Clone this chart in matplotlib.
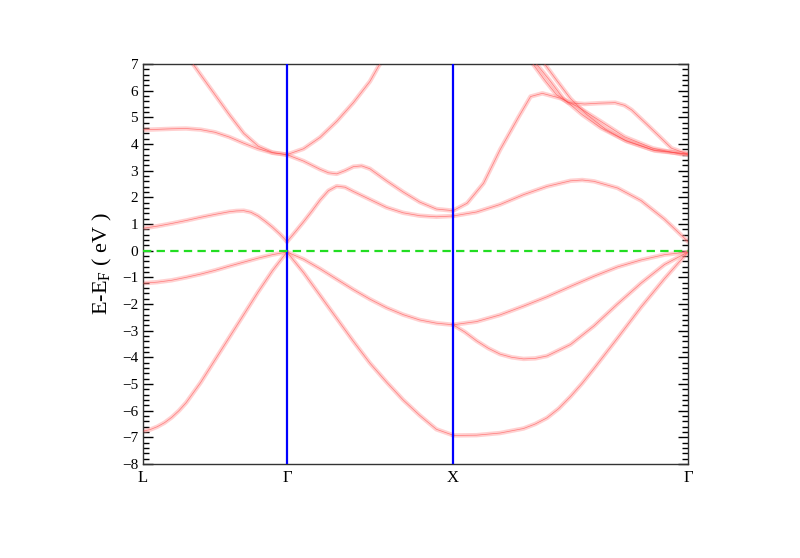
import matplotlib
matplotlib.use("Agg")
import matplotlib.pyplot as plt
import numpy as np
from matplotlib.ticker import MultipleLocator

plt.rcParams['font.family'] = ['Liberation Serif', 'DejaVu Serif']
plt.rcParams['mathtext.fontset'] = 'custom'
plt.rcParams['mathtext.rm'] = 'Liberation Serif'
plt.rcParams['lines.scale_dashes'] = False

# High-symmetry points (path distances) and labels
kpoints = [0.0, 0.866, 1.866, 3.280]
klabels = ['L', 'Γ', 'X', 'Γ']

# ---- Segment L -> Γ  (t = fraction along segment, E in eV) ----
t_LG = [0, .1, .2, .3, .4, .5, .6, .7, .8, .9, 1.0]
t_LG_b1 = [0, .05, .1, .15, .2, .25, .3, .4, .5, .6, .7, .8, .9, 1.0]
LG_b1 = [-6.77, -6.71, -6.6, -6.45, -6.25, -6.0, -5.7, -4.95, -4.1, -3.25, -2.4, -1.55, -0.75, -0.05]
LG_b2 = [-1.22, -1.18, -1.11, -1.0, -0.88, -0.74, -0.58, -0.43, -0.28, -0.15, -0.05]
t_LG_b3 = [0, .1, .2, .3, .4, .5, .6, .65, .7, .75, .8, .85, .9, .95, 1.0]
LG_b3 = [0.84, 0.92, 1.02, 1.13, 1.25, 1.36, 1.46, 1.49, 1.5, 1.44, 1.3, 1.1, 0.88, 0.63, 0.35]
LG_b4 = [4.53, 4.55, 4.57, 4.58, 4.54, 4.44, 4.26, 4.03, 3.82, 3.67, 3.6]
t_LG_b5 = [0.3, 0.35, 0.4, 0.5, 0.6, 0.7, 0.8, 0.9, 1.0]
LG_b5 = [7.4, 6.98, 6.6, 5.85, 5.1, 4.4, 3.92, 3.68, 3.6]

# ---- Segment Γ -> X ----
t_GX = [0, .1, .2, .3, .4, .5, .6, .7, .8, .9, 1.0]
GX_b1 = [-0.05, -0.82, -1.68, -2.54, -3.4, -4.22, -4.93, -5.6, -6.18, -6.7, -6.92]
GX_b2 = [-0.05, -0.32, -0.68, -1.07, -1.46, -1.82, -2.14, -2.4, -2.6, -2.72, -2.78]
t_GX_b3 = [0, .05, .1, .15, .2, .25, .3, .35, .4, .5, .6, .7, .8, .9, 1.0]
GX_b3 = [0.33, 0.7, 1.08, 1.48, 1.9, 2.25, 2.42, 2.38, 2.22, 1.92, 1.62, 1.42, 1.31, 1.27, 1.3]
t_GX_b4 = [0, .1, .2, .25, .3, .35, .4, .45, .5, .6, .7, .8, .9, 1.0]
GX_b4 = [3.6, 3.36, 3.05, 2.92, 2.88, 3.0, 3.15, 3.18, 3.07, 2.62, 2.2, 1.82, 1.56, 1.5]
t_GX_b5 = [0, .1, .2, .3, .4, .5, .55, .6]
GX_b5 = [3.6, 3.82, 4.25, 4.85, 5.55, 6.35, 6.9, 7.4]

# ---- Segment X -> Γ ----
t_XG = [0, .1, .2, .3, .4, .5, .6, .7, .8, .9, 1.0]
t_XG_b1 = [0, .1, .2, .3, .35, .4, .45, .5, .55, .6, .7, .8, .9, 1.0]
XG_b1 = [-6.93, -6.92, -6.84, -6.67, -6.5, -6.27, -5.92, -5.47, -4.97, -4.42, -3.28, -2.12, -1.05, -0.05]
XG_b2 = [-2.78, -2.66, -2.41, -2.08, -1.73, -1.34, -0.96, -0.61, -0.35, -0.15, -0.05]
t_XG_b3 = [0, .05, .1, .15, .2, .25, .3, .35, .4, .5, .6, .7, .8, .9, 1.0]
XG_b3 = [-2.78, -3.05, -3.38, -3.66, -3.88, -4.0, -4.06, -4.04, -3.95, -3.52, -2.82, -2.0, -1.22, -0.52, -0.05]
t_XG_b4 = [0, .1, .2, .3, .4, .5, .55, .6, .7, .8, .9, 1.0]
XG_b4 = [1.3, 1.45, 1.73, 2.1, 2.41, 2.62, 2.65, 2.6, 2.35, 1.88, 1.18, 0.34]
t_XG_b5 = [0, .06, .13, .2, .28, .33, .38, .46, .53, .63, .73, .85, .97, 1.0]
XG_b5 = [1.5, 1.78, 2.53, 3.78, 5.03, 5.78, 5.9, 5.71, 5.4, 4.84, 4.27, 3.84, 3.62, 3.62]
t_XG_b6 = [.34, .39, .44, .49, .56, .62, .69, .73, .76, .82, .88, .93, 1.0]
XG_b6 = [7.0, 6.4, 5.85, 5.55, 5.5, 5.53, 5.55, 5.45, 5.28, 4.78, 4.27, 3.84, 3.62]
t_XG_b7 = [.355, .41, .47, .55, .63, .73, .85, 1.0]
XG_b7 = [7.0, 6.4, 5.7, 5.1, 4.6, 4.15, 3.78, 3.62]
t_XG_b8 = [.39, .44, .5, .57, .65, .74, .86, 1.0]
XG_b8 = [7.0, 6.4, 5.7, 5.1, 4.55, 4.1, 3.75, 3.62]

segments = [
    (0, [(t_LG_b1, LG_b1), (t_LG, LG_b2), (t_LG_b3, LG_b3), (t_LG, LG_b4), (t_LG_b5, LG_b5)]),
    (1, [(t_GX, GX_b1), (t_GX, GX_b2), (t_GX_b3, GX_b3), (t_GX_b4, GX_b4), (t_GX_b5, GX_b5)]),
    (2, [(t_XG_b1, XG_b1), (t_XG, XG_b2), (t_XG_b3, XG_b3), (t_XG_b4, XG_b4), (t_XG_b5, XG_b5),
         (t_XG_b6, XG_b6), (t_XG_b7, XG_b7), (t_XG_b8, XG_b8)]),
]

fig = plt.figure(figsize=(8, 5.58), dpi=100)
ax = fig.add_axes([0.17875, 0.1685, 0.68125, 0.7168])

for seg, bands in segments:
    k0, k1 = kpoints[seg], kpoints[seg + 1]
    for t, e in bands:
        k = k0 + np.asarray(t) * (k1 - k0)
        ax.plot(k, e, color='#ff9a9a', lw=3.2, alpha=0.45, solid_capstyle='round',
                solid_joinstyle='round', zorder=2)
        ax.plot(k, e, color='#ff4040', lw=0.5, alpha=0.6, solid_joinstyle='round', zorder=3)

for kp in kpoints[1:3]:
    ax.axvline(kp, color='#0000ff', lw=1.6, zorder=4)

ax.axhline(0, color='#22dd22', lw=1.6, dashes=(6.0, 3.8), zorder=5)

ax.set_xlim(kpoints[0], kpoints[-1])
ax.set_ylim(-8, 7)
ax.set_xticks(kpoints)
ax.set_xticklabels(klabels, fontsize=12)
ax.tick_params(axis='x', length=0, pad=4)
ax.yaxis.set_major_locator(MultipleLocator(1))
ax.yaxis.set_minor_locator(MultipleLocator(0.2))
ax.tick_params(axis='y', which='both', direction='in', left=True, right=True, labelsize=11)
ax.tick_params(axis='y', which='major', length=7, width=1)
ax.tick_params(axis='y', which='minor', length=4, width=1)
for sp in ax.spines.values():
    sp.set_color('#333333')
    sp.set_linewidth(1.0)

ax.set_ylabel('E-E$_\\mathregular{F}$ ( eV )', fontsize=16, labelpad=6)

fig.savefig('out.png', dpi=100)
